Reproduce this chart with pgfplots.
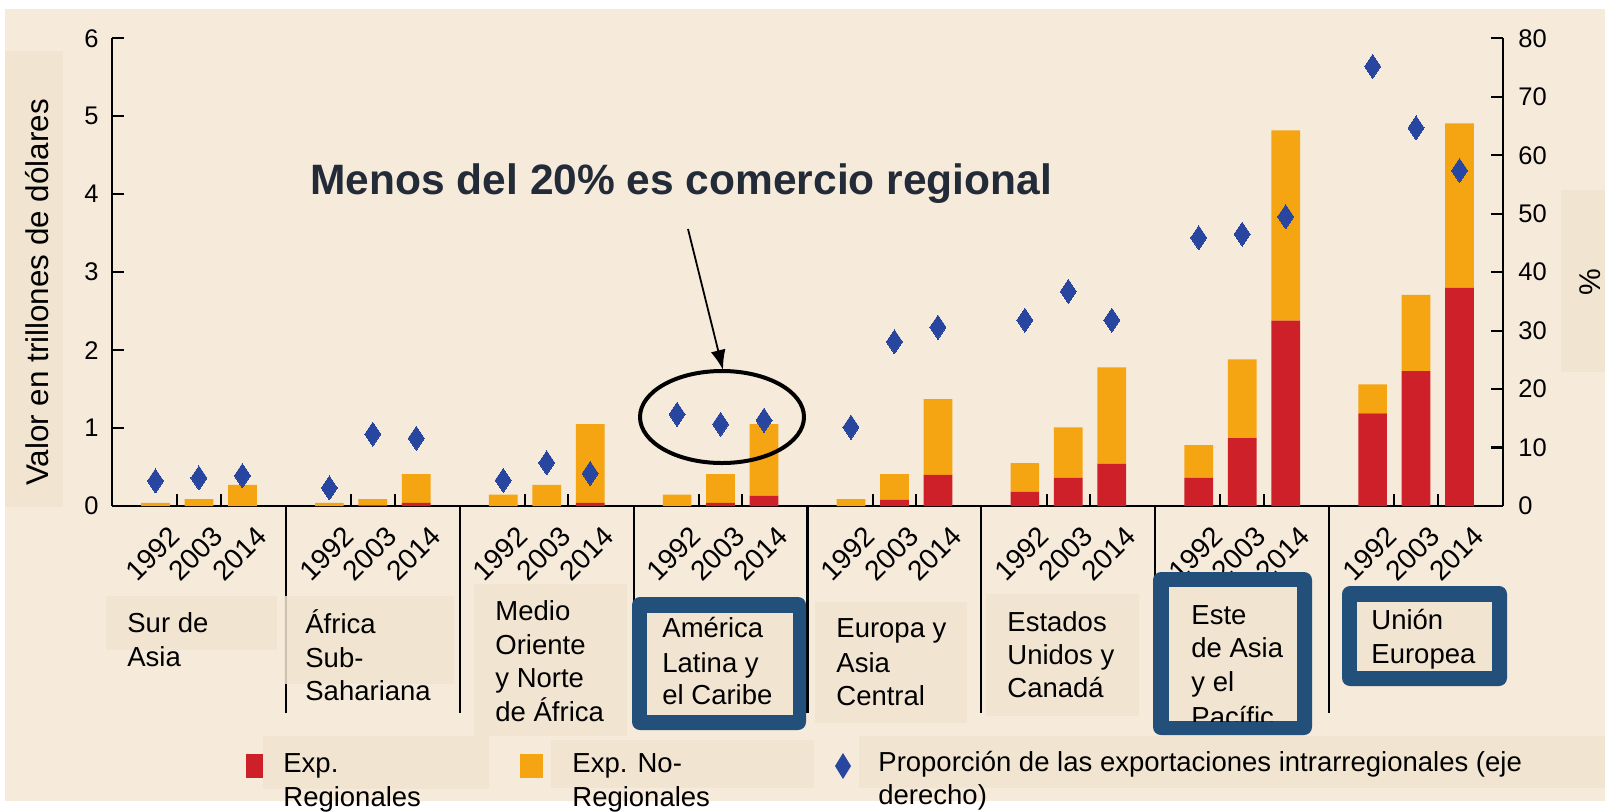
\documentclass[border=0pt]{standalone}
\usepackage{fontspec}
\setmainfont{Liberation Sans}
\usepackage{pgfplots}
\usepackage{pgfplotstable}
\pgfplotsset{compat=1.18}
\usetikzlibrary{arrows.meta}
\definecolor{bg}{HTML}{F6EADA}
\definecolor{bx}{HTML}{F1E5D1}
\definecolor{reg}{HTML}{CE2029}
\definecolor{nreg}{HTML}{F5A511}
\definecolor{dia}{HTML}{2846A0}
\definecolor{frm}{HTML}{22507A}
\definecolor{ttl}{HTML}{232B38}
\newcommand\tk{\fontsize{12.75}{15}\selectfont}
\newcommand\yr{\fontsize{14}{15}\selectfont}
\newcommand\lb{\fontsize{13.75}{16}\selectfont}

\pgfplotstableread{
x reg nreg
1 0 0.04
2 0 0.09
3 0 0.27
5 0 0.04
6 0.005 0.085
7 0.04 0.37
9 0 0.145
10 0 0.27
11 0.04 1.01
13 0 0.145
14 0.04 0.37
15 0.13 0.92
17 0 0.09
18 0.08 0.33
19 0.40 0.97
21 0.18 0.37
22 0.36 0.65
23 0.54 1.24
25 0.36 0.42
26 0.87 1.01
27 2.38 2.44
29 1.19 0.37
30 1.73 0.98
31 2.80 2.11
}\bars

\pgfplotstableread{
x p
1 4.3
2 4.8
3 5.2
5 3.1
6 12.3
7 11.6
9 4.4
10 7.4
11 5.6
13 15.7
14 14.0
15 14.7
17 13.5
18 28.1
19 30.6
21 31.8
22 36.7
23 31.8
25 45.9
26 46.5
27 49.5
29 75.2
30 64.7
31 57.4
}\share

\newcommand\T[3]{\node[anchor=base west,inner sep=0pt,font=\lb] at (#1,#2) {#3};}

\begin{document}
\begin{tikzpicture}
\begin{scope}[x=0.5pt,y=-0.5pt]
\fill[white] (0,0) rectangle (1605,811);
\fill[bg] (5,9) rectangle (1605,801);
\fill[bx] (5,51) rectangle (63,507);
\fill[bx] (1561,190) rectangle (1605,372);
\end{scope}

\begin{axis}[
  at={(56pt,-253pt)}, anchor=south west,
  scale only axis, width=695.5pt, height=233.85pt,
  xmin=0, xmax=32, ymin=0, ymax=6,
  axis x line*=bottom, axis y line*=left,
  axis line style={line width=1.3pt,-},
  x axis line style={-}, y axis line style={-},
  every tick/.style={black, line width=1.1pt},
  major tick length=6pt,
  ytick={0,1,...,6},
  yticklabel style={font=\tk, inner sep=0pt, xshift=-6.5pt},
  xtick={1.6,2.6,3.6,5.6,6.6,7.6,9.6,10.6,11.6,13.6,14.6,15.6,17.6,18.6,19.6,21.6,22.6,23.6,25.6,26.6,27.6,29.6,30.6,31.6},
  xticklabels={1992,2003,2014,1992,2003,2014,1992,2003,2014,1992,2003,2014,1992,2003,2014,1992,2003,2014,1992,2003,2014,1992,2003,2014},
  xtick style={draw=none},
  xticklabel style={font=\yr, rotate=45, anchor=base east, inner sep=0pt},
  xticklabel shift=16pt,
  /pgf/number format/assume math mode=true,
  ybar stacked, bar width=0.66,
  clip=false,
]
\addplot[fill=reg, draw=none] table[x=x,y=reg]{\bars};
\addplot[fill=nreg, draw=none] table[x=x,y=nreg]{\bars};
\pgfplotsinvokeforeach{1.5,2.5,5.5,6.5,9.5,10.5,13.5,14.5,17.5,18.5,21.5,22.5,25.5,26.5,29.5,30.5}{\draw[line width=1pt] (axis cs:#1,0) -- ++(0,6pt);}
\pgfplotsinvokeforeach{4,8,12,16,20,24,28}{\draw[line width=1.1pt] (axis cs:#1,0) -- ++(0,-103.5pt);}
\end{axis}

\begin{axis}[
  at={(56pt,-253pt)}, anchor=south west,
  scale only axis, width=695.5pt, height=233.85pt,
  xmin=0, xmax=32, ymin=0, ymax=80,
  axis y line*=right, axis x line=none,
  axis line style={line width=1.3pt,-},
  y axis line style={-},
  every tick/.style={black, line width=1.1pt},
  major tick length=6pt,
  ytick={0,10,...,80},
  yticklabel style={font=\tk, inner sep=0pt, xshift=7.5pt},
  /pgf/number format/assume math mode=true,
  clip=false,
]
\addplot[only marks, mark=diamond*, mark size=6pt, mark options={fill=dia, draw=dia, line width=0pt, xscale=0.89}] table[x=x,y=p]{\share};
\end{axis}

\begin{scope}[x=0.5pt,y=-0.5pt]
% label boxes
\fill[bx, fill opacity=0.85] (106,596) rectangle (277,650);
\fill[bx, fill opacity=0.85] (284,596) rectangle (454,684);
\fill[bx, fill opacity=0.85] (474,584) rectangle (627,736);
\fill[bx, fill opacity=0.85] (815,602) rectangle (967,723);
\fill[bx, fill opacity=0.85] (986,594) rectangle (1139,716);
% frames
\fill[frm, rounded corners=4pt] (632,597) rectangle (806,730);
\fill[bx] (647,613) rectangle (793,715);
\fill[frm, rounded corners=4pt] (1153,572) rectangle (1312,735);
\fill[bx] (1169,587) rectangle (1297,721);
\fill[frm, rounded corners=4pt] (1342,586) rectangle (1507,686);
\fill[bx] (1357,602) rectangle (1492,671);
% region labels
\T{127}{632}{Sur de}\T{127}{666}{Asia}
\T{305}{633}{África}\T{305}{667}{Sub-}\T{305}{700}{Sahariana}
\T{495}{620}{Medio}\T{495}{654}{Oriente}\T{495}{687}{y Norte}\T{495}{721}{de África}
\T{662}{637}{América}\T{662}{672}{Latina y}\T{662}{704}{el Caribe}
\T{836}{637}{Europa y}\T{836}{672}{Asia}\T{836}{705}{Central}
\T{1007}{631}{Estados}\T{1007}{664}{Unidos y}\T{1007}{697}{Canadá}
\T{1191}{624}{Este}\T{1191}{657}{de Asia}\T{1191}{691}{y el}
\begin{scope}
\clip (1169,587) rectangle (1297,721);
\T{1191}{726}{Pacífic}
\end{scope}
\T{1371}{629}{Unión}\T{1371}{663}{Europea}
% legend
\fill[reg] (246,754) rectangle (270,778);
\fill[bx] (263,736) rectangle (489,789);
\fill[nreg] (520,754) rectangle (543,778);
\fill[bx] (551,740) rectangle (814,788);
\fill[bx] (859,736) rectangle (1605,788);
\fill[dia] (843,753) -- (851,766) -- (843,779) -- (835,766) -- cycle;
\T{283}{772}{Exp.}\T{283}{806}{Regionales}
\T{572}{772}{Exp. No-}\T{572}{806}{Regionales}
\T{878}{771}{Proporción de las exportaciones intrarregionales (eje}\T{878}{804}{derecho)}
% axis titles
\node[rotate=90, anchor=base, inner sep=0pt, font=\fontsize{15.7}{18}\selectfont] at (48.5,292.5) {Valor en trillones de dólares};
\node[rotate=90, inner sep=0pt, font=\fontsize{15}{18}\selectfont] at (1590,282) {\%};
% annotation
\node[anchor=base west, inner sep=0pt, text=ttl, font=\fontsize{21.25}{25}\selectfont\bfseries] at (310,194) {Menos del 20\% es comercio regional};
\draw[line width=2pt] (722,417) ellipse [x radius=82, y radius=46];
\draw[line width=0.9pt, -{Latex[length=10pt,width=7.5pt]}] (688,229) -- (723,370);
\end{scope}
\pgfresetboundingbox
\path (0pt,0pt) rectangle (802.5pt,-405.5pt);
\end{tikzpicture}
\end{document}
